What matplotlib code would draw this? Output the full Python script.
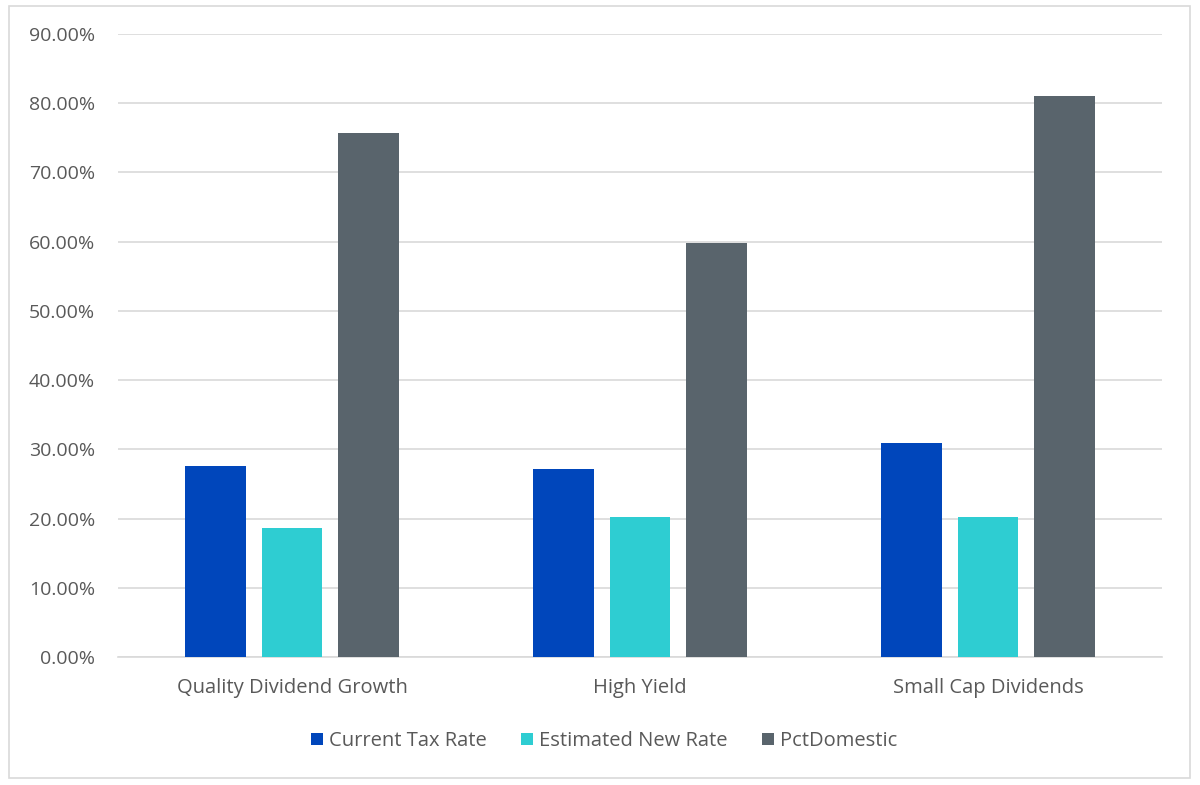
import numpy as np
from matplotlib import pyplot as plt
from matplotlib.ticker import FuncFormatter
from matplotlib.patches import Rectangle

categories = ['Quality Dividend Growth', 'High Yield', 'Small Cap Dividends']
series_names = ['Current Tax Rate', 'Estimated New Rate', 'PctDomestic']
current_tax = [27.6, 27.2, 30.9]
estimated_new = [18.7, 20.2, 20.2]
pct_domestic = [75.7, 59.8, 81.0]

colors = ['#0046BB', '#2ECDD2', '#59646C']
text_col = '#595959'

plt.rcParams['font.family'] = ['Open Sans', 'DejaVu Sans']

fig = plt.figure(figsize=(12, 7.85), dpi=100)
ax = fig.add_axes([118/1200, 1 - 657/785, (1162-118)/1200, (657-34)/785])

x = np.arange(len(categories))
width = 0.175
offset = 0.221
for i, (vals, name) in enumerate(zip([current_tax, estimated_new, pct_domestic], series_names)):
    ax.bar(x + (i - 1)*offset, vals, width, color=colors[i], label=name, zorder=3)

ax.set_xlim(-0.5, 2.5)
ax.set_ylim(0, 90)
ax.set_yticks(np.arange(0, 91, 10))
ax.yaxis.set_major_formatter(FuncFormatter(lambda v, p: '%.2f%%' % v))
ax.set_xticks(x)
ax.set_xticklabels(categories)
ax.tick_params(axis='both', length=0, colors=text_col)
ax.tick_params(axis='y', pad=16.5, labelsize=14)
ax.tick_params(axis='x', pad=15, labelsize=14.5)
ax.grid(axis='y', color='#D9D9D9', linewidth=1.2, zorder=0)
for s in ['top', 'right', 'left']:
    ax.spines[s].set_visible(False)
ax.spines['bottom'].set_color('#D9D9D9')
ax.spines['bottom'].set_linewidth(1.2)

leg = fig.legend(loc='center', bbox_to_anchor=(604/1200, 1 - 741/785), ncol=3,
                 frameon=False, fontsize=14.5, handlelength=0.6, handleheight=0.6,
                 handletextpad=0.3, columnspacing=1.7)
for t in leg.get_texts():
    t.set_color(text_col)

fig.patches.append(Rectangle((9/1200, 1 - 778/785), (1190-9)/1200, (778-6)/785,
                             transform=fig.transFigure, fill=False,
                             edgecolor='#D9D9D9', linewidth=1.2))

plt.savefig('out.png', dpi=100)
